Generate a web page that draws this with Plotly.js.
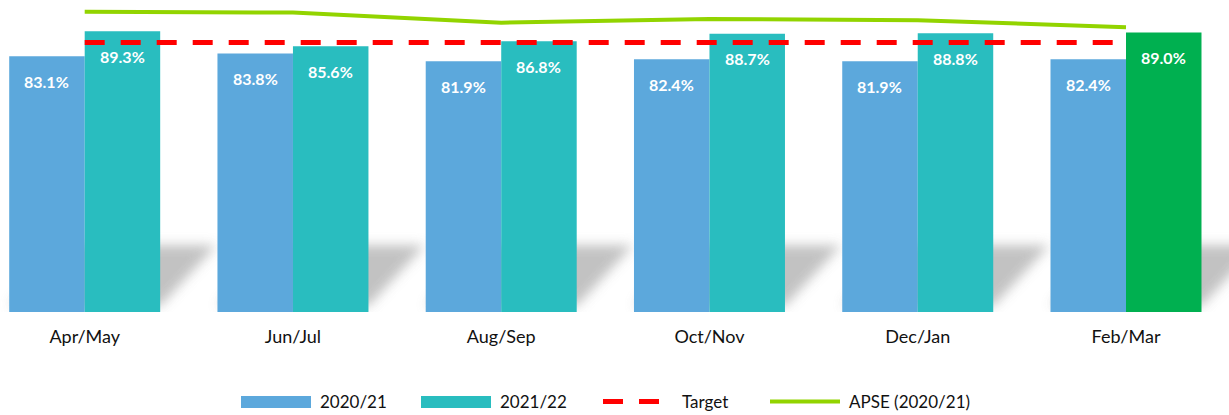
<!DOCTYPE html>
<html>
<head>
<meta charset="utf-8">
<script src="https://cdn.plot.ly/plotly-3.0.1.min.js"></script>
<style>
  html, body { margin: 0; padding: 0; background: #fff; }
  #chart { width: 1229px; height: 415px; }
</style>
</head>
<body>
<div id="chart"></div>
<script>
const categories = ['Apr/May', 'Jun/Jul', 'Aug/Sep', 'Oct/Nov', 'Dec/Jan', 'Feb/Mar'];
const values2020 = [83.1, 83.8, 81.9, 82.4, 81.9, 82.4];
const values2021 = [89.3, 85.6, 86.8, 88.7, 88.8, 89.0];
const targetValues = [86.5, 86.5, 86.5, 86.5, 86.5, 86.5];
const apseValues = [94.1, 93.9, 91.4, 92.3, 92.0, 90.3];
const seriesNames = ['2020/21', '2021/22', 'Target', 'APSE (2020/21)'];

const C2020 = '#5CA8DC';
const C2021 = '#29BDBF';
const CLAST = '#00B050';
const CTARGET = '#FF0000';
const CAPSE = '#92D400';
const CSHADOW = '#bcbcbc';
const FONT = 'Lato, "Open Sans", sans-serif';

const bargap = 0.275;
const half = (1 - bargap) / 2;      // width of one bar in category units
const colors2021 = values2021.map((v, i) => i === values2021.length - 1 ? CLAST : C2021);

const traces = [
  { type: 'bar', name: seriesNames[0], x: categories, y: values2020,
    marker: { color: C2020 }, hoverinfo: 'x+y' },
  { type: 'bar', name: seriesNames[1], x: categories, y: values2021,
    marker: { color: colors2021 }, hoverinfo: 'x+y' },
  { type: 'scatter', mode: 'lines', name: seriesNames[2], x: categories, y: targetValues,
    line: { color: CTARGET, width: 5, dash: '20px,16px' } },
  { type: 'scatter', mode: 'lines', name: seriesNames[3], x: categories, y: apseValues,
    line: { color: CAPSE, width: 4 } }
];

// Value labels inside the bars
const annotations = [];
categories.forEach((c, i) => {
  [[values2020, -half / 2], [values2021, half / 2]].forEach(([arr, off]) => {
    annotations.push({
      x: i + off, y: arr[i], xref: 'x', yref: 'y', yshift: -25,
      text: arr[i].toFixed(1) + '%', showarrow: false,
      yanchor: 'middle', xanchor: 'center',
      font: { family: FONT, size: 16, color: '#ffffff', weight: 'bold' }
    });
  });
});

// Decorative drop shadows behind each bar group
const yMin = 20, yMax = 97;
const shapes = [];
categories.forEach((c, i) => {
  const L = i - half, R = i + half, dx = 0.27, top = 36.5;
  shapes.push({
    type: 'path', xref: 'x', yref: 'y', layer: 'below',
    path: `M ${L} ${yMin + 1.5} L ${R} ${yMin + 1.5} L ${R + dx} ${top} L ${L + dx} ${top} Z`,
    fillcolor: CSHADOW, line: { width: 0 }, opacity: 0.9
  });
});

// Custom legend (wide swatches as in the original)
const H = 312; // plot-area height in px
const py = p => (H - p) / H;
const px = p => p / 1229;
shapes.push({ type: 'rect', xref: 'paper', yref: 'paper', x0: px(241), x1: px(311), y0: py(408), y1: py(396), fillcolor: C2020, line: { width: 0 } });
shapes.push({ type: 'rect', xref: 'paper', yref: 'paper', x0: px(421), x1: px(491), y0: py(408), y1: py(396), fillcolor: C2021, line: { width: 0 } });
shapes.push({ type: 'line', xref: 'paper', yref: 'paper', x0: px(603), x1: px(659), y0: py(401.5), y1: py(401.5), line: { color: CTARGET, width: 5, dash: '20px,16px' } });
shapes.push({ type: 'line', xref: 'paper', yref: 'paper', x0: px(770), x1: px(840), y0: py(401.5), y1: py(401.5), line: { color: CAPSE, width: 4 } });
[[318, seriesNames[0]], [498, seriesNames[1]], [680, seriesNames[2]], [847, seriesNames[3]]].forEach(([x, t]) => {
  annotations.push({ xref: 'paper', yref: 'paper', x: px(x), y: py(401.5), text: t, showarrow: false,
    xanchor: 'left', yanchor: 'middle', font: { family: FONT, size: 17, color: '#111' } });
});

const layout = {
  width: 1229, height: 415,
  margin: { l: 0, r: 0, t: 0, b: 103, pad: 0 },
  paper_bgcolor: '#ffffff', plot_bgcolor: '#ffffff',
  barmode: 'group', bargap: bargap, bargroupgap: 0,
  showlegend: false,
  xaxis: {
    type: 'category', range: [-0.4067, 5.4946],
    showgrid: false, zeroline: false, showline: false, ticks: '',
    tickfont: { family: FONT, size: 18, color: '#111' },
    ticklabelstandoff: 12, fixedrange: true
  },
  yaxis: { range: [yMin, yMax], visible: false, fixedrange: true },
  shapes: shapes,
  annotations: annotations
};

function applyBlur(gd) {
  try {
    const svg = gd.querySelector('svg.main-svg');
    const ns = 'http://www.w3.org/2000/svg';
    let defs = svg.querySelector('defs');
    if (!defs) { defs = document.createElementNS(ns, 'defs'); svg.insertBefore(defs, svg.firstChild); }
    if (!svg.querySelector('#shadowBlur')) {
      const f = document.createElementNS(ns, 'filter');
      f.setAttribute('id', 'shadowBlur');
      f.setAttribute('x', '-50%'); f.setAttribute('y', '-50%');
      f.setAttribute('width', '200%'); f.setAttribute('height', '200%');
      const b = document.createElementNS(ns, 'feGaussianBlur');
      b.setAttribute('stdDeviation', '6');
      f.appendChild(b);
      defs.appendChild(f);
    }
    gd.querySelectorAll('.shapelayer path').forEach(p => {
      const fill = (p.style.fill || p.getAttribute('fill') || '').replace(/\s/g, '');
      if (fill === 'rgb(188,188,188)' || fill === CSHADOW) p.setAttribute('filter', 'url(#shadowBlur)');
    });
  } catch (e) {}
}

Plotly.newPlot('chart', traces, layout, { displayModeBar: false, staticPlot: true }).then(applyBlur);
</script>
</body>
</html>
